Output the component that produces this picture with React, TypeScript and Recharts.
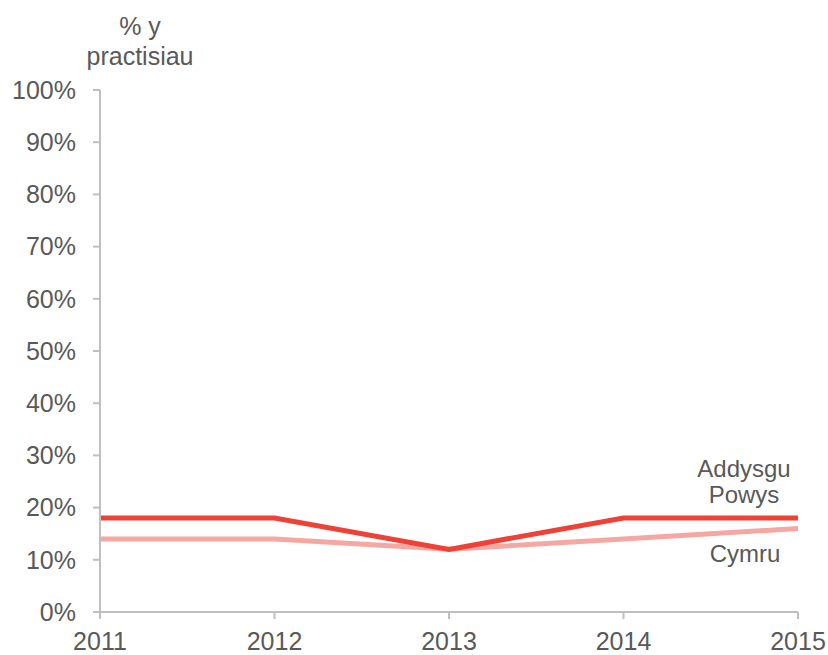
import React from 'react';
import { LineChart, Line, XAxis, YAxis } from 'recharts';

const years = ['2011', '2012', '2013', '2014', '2015'];
const powys = [18, 18, 12, 18, 18];
const cymru = [14, 14, 12, 14, 16];
const yTicks = [0, 10, 20, 30, 40, 50, 60, 70, 80, 90, 100];

const data = years.map((year, i) => ({ year, powys: powys[i], cymru: cymru[i] }));

const axisColor = '#bfbfbf';
const textColor = '#595959';
const font = 'Liberation Sans, Arial, sans-serif';

const PowysLabel = (props: any) => {
  if (props.index !== years.length - 1) return null;
  const cx = props.x - 54;
  return (
    <text x={cx} y={props.y - 41} textAnchor="middle" fill={textColor} fontSize={24} fontFamily={font}>
      <tspan x={cx} dy={0}>Addysgu</tspan>
      <tspan x={cx} dy={26}>Powys</tspan>
    </text>
  );
};

const CymruLabel = (props: any) => {
  if (props.index !== years.length - 1) return null;
  return (
    <text x={props.x - 53} y={props.y + 34} textAnchor="middle" fill={textColor} fontSize={24} fontFamily={font}>
      Cymru
    </text>
  );
};

export default function App() {
  return (
    <div style={{ position: 'absolute', left: 0, top: 0, width: 828, height: 655, background: '#fff', fontFamily: font }}>
      <svg width={300} height={80} style={{ position: 'absolute', left: 0, top: 0 }}>
        <text x={140} y={35} textAnchor="middle" fill={textColor} fontSize={25} fontFamily={font}>% y</text>
        <text x={140} y={65} textAnchor="middle" fill={textColor} fontSize={25} fontFamily={font}>practisiau</text>
      </svg>
      <LineChart width={828} height={655} data={data} margin={{ top: 90, right: 30, left: 0, bottom: 0 }}>
        <XAxis
          dataKey="year"
          height={43}
          stroke={axisColor}
          strokeWidth={2}
          tickSize={7}
          tickMargin={13}
          tick={{ fill: textColor, fontSize: 25, fontFamily: font }}
          interval={0}
        />
        <YAxis
          width={100}
          domain={[0, 100]}
          ticks={yTicks}
          tickFormatter={(v: number) => `${v}%`}
          stroke={axisColor}
          strokeWidth={2}
          tickSize={7}
          tickMargin={17}
          tick={{ fill: textColor, fontSize: 25, fontFamily: font }}
          interval={0}
        />
        <Line
          dataKey="cymru"
          stroke="#f5a7a1"
          strokeWidth={5}
          dot={false}
          isAnimationActive={false}
          label={<CymruLabel />}
        />
        <Line
          dataKey="powys"
          stroke="#ef4136"
          strokeWidth={5}
          dot={false}
          isAnimationActive={false}
          label={<PowysLabel />}
        />
      </LineChart>
    </div>
  );
}
